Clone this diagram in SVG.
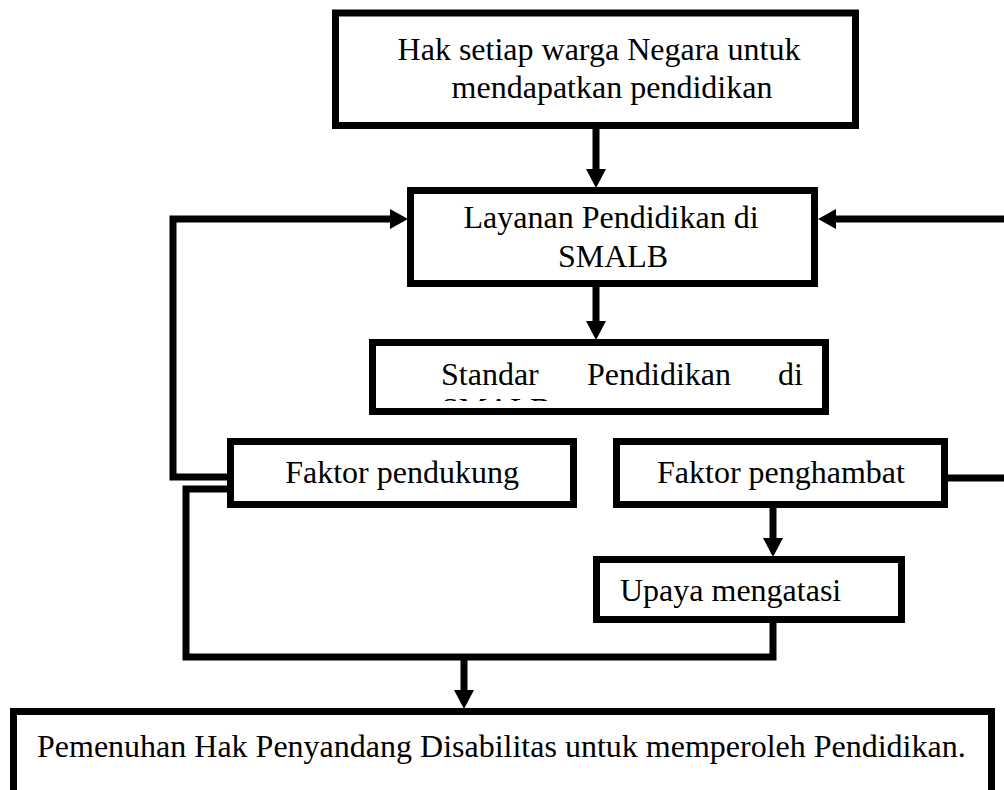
<svg xmlns="http://www.w3.org/2000/svg" width="1004" height="790" viewBox="0 0 1004 790">
<style>
.box{fill:#fff;stroke:#000;stroke-width:7}
.ln{fill:none;stroke:#000;stroke-width:7;stroke-linejoin:miter}
.hd{fill:#000}
text{font-family:"Liberation Serif","Times New Roman",serif;font-size:32px;fill:#000}
</style>
<defs>
<clipPath id="clipStd"><rect x="376" y="346" width="446" height="55"/></clipPath>
</defs>
<rect width="1004" height="790" fill="#fff"/>
<g id="connectors">
<path class="ln" d="M596 129 V171"/>
<polygon class="hd" points="586,169 606,169 596,188"/>
<path class="ln" d="M596 287 V323"/>
<polygon class="hd" points="586,321 606,321 596,340"/>
<path class="ln" d="M230 477 H173 V219 H393"/>
<polygon class="hd" points="390,209 390,229 408,219"/>
<path class="ln" d="M948 478 H1010 V219 H833"/>
<polygon class="hd" points="836,209 836,229 818,219"/>
<path class="ln" d="M230 489 H186 V657 H773 V623"/>
<path class="ln" d="M773 508 V540"/>
<polygon class="hd" points="763,538 783,538 773,557"/>
<path class="ln" d="M464 657 V692"/>
<polygon class="hd" points="454,690 474,690 464,709"/>
</g>
<g id="node-hak">
<rect class="box" x="335.5" y="13" width="520" height="112.5"/>
<text x="599" y="60" text-anchor="middle">Hak setiap warga Negara untuk</text>
<text x="612" y="98" text-anchor="middle">mendapatkan pendidikan</text>
</g>
<g id="node-layanan">
<rect class="box" x="410.5" y="190.5" width="404" height="93"/>
<text x="611" y="228" text-anchor="middle">Layanan Pendidikan di</text>
<text x="613" y="267" text-anchor="middle">SMALB</text>
</g>
<g id="node-standar">
<rect class="box" x="372.5" y="342.5" width="453" height="69"/>
<text x="441" y="385">Standar</text>
<text x="587" y="385">Pendidikan</text>
<text x="778" y="385">di</text>
<text x="441" y="420" clip-path="url(#clipStd)">SMALB</text>
</g>
<g id="node-pendukung">
<rect class="box" x="230.5" y="441.5" width="343" height="63"/>
<text x="402" y="483" text-anchor="middle">Faktor pendukung</text>
</g>
<g id="node-penghambat">
<rect class="box" x="616.5" y="441.5" width="328" height="63"/>
<text x="657" y="483">Faktor penghambat</text>
</g>
<g id="node-upaya">
<rect class="box" x="596.5" y="559.5" width="305" height="60"/>
<text x="620" y="601">Upaya mengatasi</text>
</g>
<g id="node-pemenuhan">
<rect class="box" x="13.5" y="711.5" width="978" height="100"/>
<text x="37" y="757">Pemenuhan Hak Penyandang Disabilitas untuk memperoleh Pendidikan.</text>
</g>
</svg>
